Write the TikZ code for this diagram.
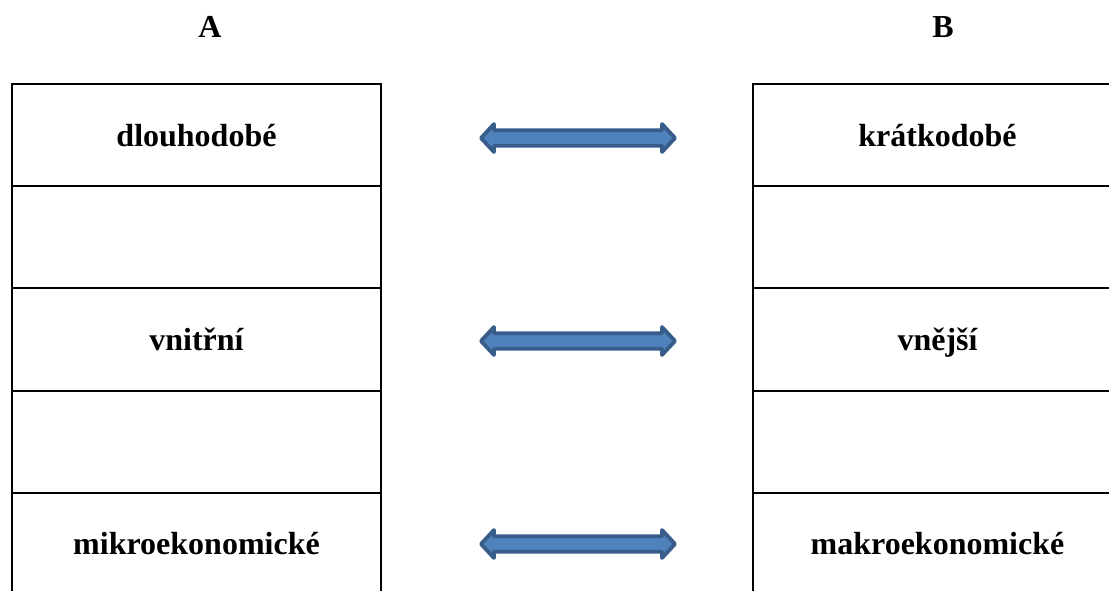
\documentclass[tikz,border=0pt]{standalone}
\usepackage{fontspec}
\setmainfont{Liberation Serif}
\definecolor{arrowfill}{HTML}{4F81BD}
\definecolor{arrowline}{HTML}{385D8A}
\begin{document}
\begin{tikzpicture}[x=1pt,y=-1pt,
  cell/.style={draw=black,line width=2pt,minimum width=369pt,minimum height=102.2pt,
    inner sep=0pt,text height=22pt,text depth=0pt,font=\fontsize{32}{36}\selectfont\bfseries},
  head/.style={anchor=base,font=\fontsize{32}{36}\selectfont\bfseries},
  dblarrow/.pic={\draw[fill=arrowfill,draw=arrowline,line width=3.8pt,line join=round]
    (-97,0) -- (-84,-14) -- (-84,-7.8) -- (84,-7.8) -- (84,-14) -- (97,0) -- (84,14)
    -- (84,7.8) -- (-84,7.8) -- (-84,14) -- cycle;}]
\useasboundingbox (0,0) rectangle (1109,590);
\clip (0,0) rectangle (1109,590);
\node[head] (hA) at (210,37.5) {A};
\node[head] (hB) at (943,37.5) {B};
% left column
\node[cell] (a1) at (196.5,135.1) {dlouhodobé};
\node[cell] (a2) at (196.5,237.3) {};
\node[cell] (a3) at (196.5,339.5) {vnitřní};
\node[cell] (a4) at (196.5,441.7) {};
\node[cell] (a5) at (196.5,543.9) {mikroekonomické};
% right column
\node[cell] (b1) at (937.5,135.1) {krátkodobé};
\node[cell] (b2) at (937.5,237.3) {};
\node[cell] (b3) at (937.5,339.5) {vnější};
\node[cell] (b4) at (937.5,441.7) {};
\node[cell] (b5) at (937.5,543.9) {makroekonomické};
% arrows
\pic (r1) at (578,138) {dblarrow};
\pic (r2) at (578,341) {dblarrow};
\pic (r3) at (578,544) {dblarrow};
\end{tikzpicture}
\end{document}
